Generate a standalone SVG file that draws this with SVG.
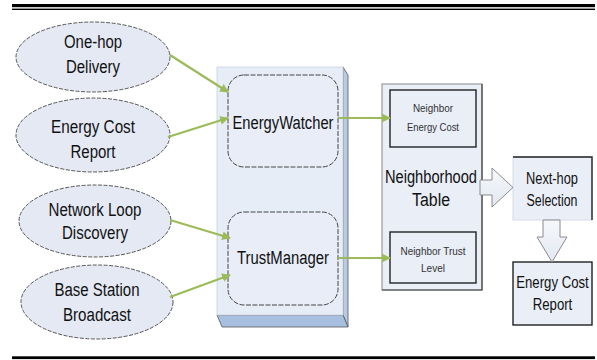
<svg xmlns="http://www.w3.org/2000/svg" width="597" height="360" viewBox="0 0 597 360">
<defs>
<marker id="ah" viewBox="0 0 10 10" refX="9" refY="5" markerWidth="4" markerHeight="4" orient="auto" markerUnits="strokeWidth">
<path d="M0,0 L10,5 L0,10 z" fill="#9bbb59"/>
</marker>
<linearGradient id="blk" x1="0" y1="0" x2="0" y2="1">
<stop offset="0" stop-color="#f6f8fb"/><stop offset="1" stop-color="#e2e8f1"/>
</linearGradient>
</defs>
<style>
.t{font-family:"Liberation Sans",Arial,sans-serif;font-size:18px;fill:#111;text-anchor:middle}
.m{font-family:"Liberation Sans",Arial,sans-serif;font-size:16px;fill:#111;text-anchor:middle}
.r{font-family:"Liberation Sans",Arial,sans-serif;font-size:13.2px;fill:#111;text-anchor:middle}
.s{font-family:"Liberation Sans",Arial,sans-serif;font-size:11.5px;fill:#333;text-anchor:middle}
.ell{fill:#e4e9f4;stroke:#555;stroke-width:1;stroke-dasharray:4 1.5}
.rr{fill:#e8edf7;stroke:#444;stroke-width:1;stroke-dasharray:5 1.5}
.box{fill:#e9eef7;stroke:#222;stroke-width:1.4}
.con{stroke:#9bbb59;stroke-width:2.2;fill:none;marker-end:url(#ah)}
.blk{fill:url(#blk);stroke:#8a8a8a;stroke-width:1}
</style>
<rect width="597" height="360" fill="#fff"/>
<g id="rules">
<rect x="12" y="4" width="583" height="3.2" fill="#000"/>
<rect x="12" y="8.6" width="583" height="1.4" fill="#000"/>
<rect x="12" y="356.3" width="583" height="2.8" fill="#000"/>
</g>
<g id="n-onehop"><ellipse class="ell" cx="93" cy="57" rx="77" ry="35"/><text class="t" x="93" y="48" textLength="58" lengthAdjust="spacingAndGlyphs">One-hop</text><text class="t" x="93" y="73" textLength="54" lengthAdjust="spacingAndGlyphs">Delivery</text></g>
<g id="n-ecr1"><ellipse class="ell" cx="93" cy="135" rx="77" ry="37"/><text class="t" x="93" y="133" textLength="84" lengthAdjust="spacingAndGlyphs">Energy Cost</text><text class="t" x="93" y="158" textLength="45" lengthAdjust="spacingAndGlyphs">Report</text></g>
<g id="n-loop"><ellipse class="ell" cx="95" cy="221" rx="76" ry="36"/><text class="t" x="95" y="216" textLength="93" lengthAdjust="spacingAndGlyphs">Network Loop</text><text class="t" x="95" y="239" textLength="66" lengthAdjust="spacingAndGlyphs">Discovery</text></g>
<g id="n-base"><ellipse class="ell" cx="97" cy="302" rx="76" ry="37"/><text class="t" x="97" y="296" textLength="85" lengthAdjust="spacingAndGlyphs">Base Station</text><text class="t" x="97" y="321" textLength="68" lengthAdjust="spacingAndGlyphs">Broadcast</text></g>
<g id="n-panel">
<polygon points="343,67 348,75 348,327 343,315" fill="#b9cbe3" stroke="#555" stroke-width="0.8"/>
<polygon points="217,315 343,315 348,327 222,327" fill="#a8c0df" stroke="#555" stroke-width="0.8"/>
<rect x="217" y="67" width="126" height="248" fill="#e7edf7" stroke="#c8d2e2" stroke-width="0.8"/>
</g>
<g id="n-energywatcher"><rect class="rr" x="228" y="75" width="110" height="92" rx="16"/><text class="t" x="283" y="129" textLength="101" lengthAdjust="spacingAndGlyphs">EnergyWatcher</text></g>
<g id="n-trustmanager"><rect class="rr" x="228" y="212" width="110" height="93" rx="16"/><text class="t" x="283" y="264" textLength="92" lengthAdjust="spacingAndGlyphs">TrustManager</text></g>
<g id="n-table">
<rect x="382" y="84" width="100" height="206" fill="#e9eef7" stroke="#888" stroke-width="1"/>
<polyline points="482,84 482,290 382,290" fill="none" stroke="#444" stroke-width="1.2"/>
<text class="t" x="431" y="183" textLength="92" lengthAdjust="spacingAndGlyphs">Neighborhood</text><text class="t" x="431" y="206" textLength="38" lengthAdjust="spacingAndGlyphs">Table</text>
</g>
<g id="n-nec"><rect class="box" x="390" y="90" width="86" height="57"/><text class="s" x="433" y="112" textLength="40" lengthAdjust="spacingAndGlyphs">Neighbor</text><text class="s" x="433" y="131" textLength="52" lengthAdjust="spacingAndGlyphs">Energy Cost</text></g>
<g id="n-ntl"><rect class="box" x="390" y="232" width="86" height="51"/><text class="s" x="433" y="255" textLength="65" lengthAdjust="spacingAndGlyphs">Neighbor Trust</text><text class="s" x="433" y="272" textLength="24" lengthAdjust="spacingAndGlyphs">Level</text></g>
<g id="n-nexthop"><rect x="513" y="157" width="79" height="63" fill="#e9eef7" stroke="#d6dce8" stroke-width="1"/><polyline points="513,157 592,157 592,220" fill="none" stroke="#222" stroke-width="1.4"/><text class="m" x="552" y="184" textLength="52" lengthAdjust="spacingAndGlyphs">Next-hop</text><text class="m" x="552" y="206" textLength="51" lengthAdjust="spacingAndGlyphs">Selection</text></g>
<g id="n-ecr2"><rect class="box" x="513" y="262" width="79" height="63"/><text class="r" transform="translate(552.5,288) scale(1,1.2)">Energy Cost</text><text class="r" transform="translate(552.5,310) scale(1,1.2)">Report</text></g>
<g id="connectors">
<path class="con" d="M170,55 L228,92"/>
<path class="con" d="M168,137 L228,118"/>
<path class="con" d="M170,220 L230,238"/>
<path class="con" d="M170,297 L230,275"/>
<path class="con" d="M338,118 L390,118"/>
<path class="con" d="M338,258 L390,258"/>
<polygon class="blk" points="480,180 492,180 492,168 513,187.5 492,207 492,195 480,195"/>
<polygon class="blk" points="543,220 560,220 560,237 567,237 552,262 537,237 543,237"/>
</g>
</svg>
